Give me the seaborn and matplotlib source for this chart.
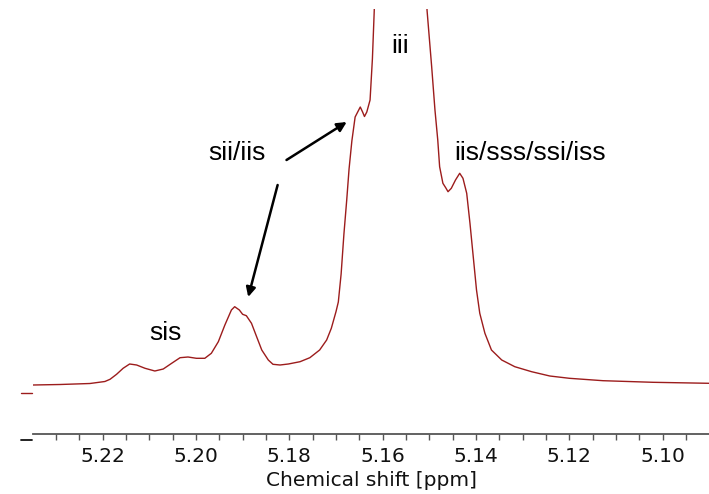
import numpy as np
import pandas as pd
import matplotlib
matplotlib.use("Agg")
import matplotlib.pyplot as plt
import matplotlib.transforms as mtransforms
from matplotlib.ticker import MultipleLocator, FormatStrFormatter
import seaborn as sns

# 1H NMR spectrum, methine region (chemical shift in ppm, intensity in arbitrary units)
shift_ppm = [5.2349, 5.2291, 5.2227, 5.2195, 5.2184, 5.2170, 5.2156, 5.2142, 5.2127,
             5.2109, 5.2088, 5.2070, 5.2052, 5.2034, 5.2017, 5.1999, 5.1981, 5.1967,
             5.1952, 5.1938, 5.1924, 5.1917, 5.1907, 5.1900, 5.1892, 5.1881, 5.1870,
             5.1859, 5.1845, 5.1835, 5.1820, 5.1802, 5.1777, 5.1756, 5.1735, 5.1720,
             5.1710, 5.1700, 5.1695, 5.1689, 5.1683, 5.1677, 5.1672, 5.1666, 5.1659,
             5.1648, 5.1643, 5.1639, 5.1634, 5.1627, 5.1622, 5.1618, 5.1612, 5.1600,
             5.1585, 5.1563, 5.1540, 5.1520, 5.1510, 5.1505, 5.1495, 5.1488, 5.1482,
             5.1478, 5.1471, 5.1465, 5.1460, 5.1453, 5.1444, 5.1435, 5.1428, 5.1420,
             5.1413, 5.1406, 5.1399, 5.1392, 5.1381, 5.1367, 5.1345, 5.1317, 5.1281,
             5.1242, 5.1200, 5.1128, 5.1021, 5.0901]
intensity = [49, 49.5, 50.5, 52.5, 54.7, 59.7, 65.7, 70, 69,
             65.7, 63, 65, 70.7, 76.3, 77, 75.7, 75.7, 80.7,
             92.3, 109, 124, 127.3, 124, 119.7, 118.3, 110.7, 97.3,
             84, 74, 69.7, 69, 70, 72.3, 76.3, 84, 94,
             105.7, 122.3, 132, 160, 200, 234, 265, 293, 317,
             327, 322, 317.5, 322, 334, 375, 424, 560, 850,
             1300, 1600, 1300, 800, 560, 424, 367, 324, 294,
             267.3, 250.7, 246.3, 242.3, 245.7, 254, 260.7, 255.7, 240.7,
             210.7, 177.3, 144, 120.7, 100.7, 84, 74, 67.3, 62.3,
             58, 55.7, 53.3, 51.7, 50.7]

# peak assignments (label, x, y baseline)
labels = ["iii", "sii/iis", "iis/sss/ssi/iss", "sis"]
label_x = [5.1563, 5.1913, 5.1284, 5.2066]
label_y = [381, 274, 274, 94]

# arrows from the "sii/iis" label: (tail x, tail y, tip x, tip y)
arrows = [(5.1806, 274, 5.1677, 312),
          (5.1825, 249, 5.1888, 137)]

sns.set_theme(style="white")
plt.rcParams["font.family"] = ["DejaVu Sans"]

fig = plt.figure(figsize=(7.09, 4.94), dpi=100)
ax = fig.add_axes([33 / 709, 60 / 494, 1 - 33 / 709, 425 / 494])

df = pd.DataFrame({"shift": shift_ppm, "intensity": intensity})
sns.lineplot(data=df, x="shift", y="intensity", sort=False, estimator=None,
             color="#9c1c1c", linewidth=1.0, ax=ax)

ax.set_xlim(5.2349, 5.0901)
ax.set_ylim(0, 425)

for s in ("left", "right", "top"):
    ax.spines[s].set_visible(False)
ax.spines["bottom"].set_color("#555555")
ax.spines["bottom"].set_linewidth(1.3)

ax.xaxis.set_major_locator(MultipleLocator(0.02))
ax.xaxis.set_minor_locator(MultipleLocator(0.005))
ax.xaxis.set_major_formatter(FormatStrFormatter("%.2f"))
ax.tick_params(axis="x", which="both", direction="out", length=4, width=1,
               color="#555555", bottom=True, labelsize=14.5, labelcolor="#111111", pad=5)
ax.set_yticks([])
ax.set_ylabel("")
ax.set_xlabel("Chemical shift [ppm]", fontsize=14.5, color="#111111", labelpad=4)

# small scale markers left of the plot area
blend = mtransforms.blended_transform_factory(ax.transAxes, ax.transData)
ax.plot([-0.018, -0.001], [41, 41], transform=blend, color="#9c1c1c",
        linewidth=1.0, clip_on=False)
ax.plot([-0.018, -0.001], [-6, -6], transform=blend, color="#111111",
        linewidth=1.3, clip_on=False)

for txt, x, y in zip(labels, label_x, label_y):
    ax.text(x, y, txt, ha="center", va="baseline", fontsize=19,
            family=["Liberation Sans"], color="black")

for x0, y0, x1, y1 in arrows:
    ax.annotate("", xy=(x1, y1), xytext=(x0, y0),
                arrowprops=dict(arrowstyle="-|>", color="black", lw=1.8,
                                mutation_scale=14, shrinkA=0, shrinkB=0))

fig.savefig("out.png", dpi=100)
